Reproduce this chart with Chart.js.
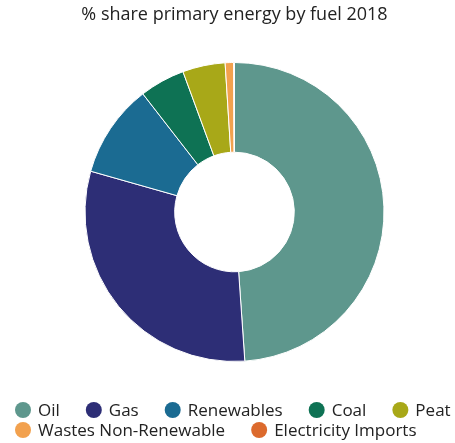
<!DOCTYPE html>
<html>
<head>
<meta charset="utf-8">
<script src="https://cdn.jsdelivr.net/npm/chart.js@4/dist/chart.umd.min.js"></script>
<style>
  html, body { margin: 0; padding: 0; background: #fff; }
  #wrap { width: 455px; height: 443px; }
</style>
</head>
<body>
<div id="wrap"><canvas id="fuelChart" width="455" height="443"></canvas></div>
<script>
// primary energy share by fuel, 2018 (%)
const fuels = ['Oil', 'Gas', 'Renewables', 'Coal', 'Peat', 'Wastes Non-Renewable', 'Electricity Imports'];
const shares = [48.9, 30.5, 10.1, 4.9, 4.6, 0.9, 0.1];
const fuelColors = ['#5e978d', '#2d2e76', '#1b6b92', '#0e7254', '#a8a818', '#f2a14e', '#dc6a2d'];

const FONT = '"Open Sans", sans-serif';

// legend drawn below the ring: left aligned rows with round markers
const bottomLegend = {
  id: 'bottomLegend',
  afterDraw(chart) {
    const ctx = chart.ctx;
    const size = 17, dot = 8, left = 15, rowGap = 20;
    ctx.save();
    ctx.font = size + 'px ' + FONT;
    ctx.textBaseline = 'middle';
    let x = left;
    let y = chart.height - 33;
    fuels.forEach((name, i) => {
      const w = 23 + ctx.measureText(name).width;
      if (x > left && x + w > chart.width) {
        x = left;
        y += rowGap;
      }
      ctx.beginPath();
      ctx.arc(x + dot, y, dot, 0, Math.PI * 2);
      ctx.fillStyle = fuelColors[i];
      ctx.fill();
      ctx.fillStyle = '#222';
      ctx.fillText(name, x + 23, y + 1);
      x += w + 26;
    });
    ctx.restore();
  }
};

new Chart(document.getElementById('fuelChart'), {
  type: 'doughnut',
  data: {
    labels: fuels,
    datasets: [{
      data: shares,
      backgroundColor: fuelColors,
      borderColor: '#ffffff',
      borderWidth: 1
    }]
  },
  options: {
    responsive: false,
    animation: false,
    cutout: '40%',
    layout: { padding: { left: 14, bottom: 81 } },
    plugins: {
      legend: { display: false },
      tooltip: { enabled: false },
      title: {
        display: true,
        text: '% share primary energy by fuel 2018',
        color: '#222',
        font: { family: FONT, size: 18, weight: 'normal' },
        padding: { top: 4, bottom: 36.4 }
      }
    }
  },
  plugins: [bottomLegend]
});
</script>
</body>
</html>
